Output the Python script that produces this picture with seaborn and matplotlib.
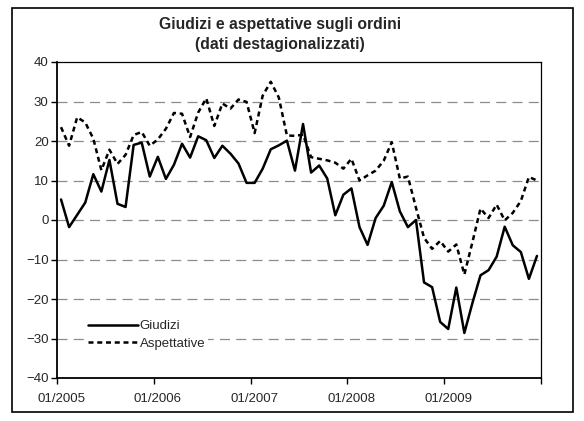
import numpy as np
import pandas as pd
import matplotlib
matplotlib.use("Agg")
import matplotlib.pyplot as plt
import seaborn as sns
from matplotlib.patches import Rectangle
from matplotlib.lines import Line2D

# ---- data (monthly, 01/2005 - 12/2009) ----
giudizi = [5.2, -1.8, 1.3, 4.4, 11.6, 7.2, 15.2, 4.1, 3.3, 19.0,
           19.6, 11.0, 16.0, 10.4, 14.0, 19.3, 15.8, 21.2, 20.2, 15.7,
           18.8, 16.8, 14.3, 9.4, 9.4, 13.0, 17.9, 18.9, 20.1, 12.5,
           24.3, 12.0, 13.8, 10.5, 1.2, 6.4, 8.0, -1.8, -6.3, 0.5,
           3.6, 9.6, 2.2, -1.8, 0.0, -15.8, -17.0, -25.8, -27.6, -17.1,
           -28.6, -21.0, -14.0, -12.7, -9.3, -1.7, -6.4, -8.1, -14.9, -9.1]
aspettative = [23.5, 18.8, 26.0, 24.7, 20.6, 12.6, 17.8, 14.2, 16.5, 21.5,
               22.3, 18.8, 20.4, 23.1, 27.1, 26.9, 21.0, 27.2, 30.8, 23.8,
               29.5, 28.2, 30.5, 29.9, 22.0, 31.5, 35.0, 31.0, 21.4, 21.3,
               21.6, 15.9, 15.5, 15.1, 14.5, 13.0, 15.5, 10.0, 11.3, 12.5,
               15.0, 19.7, 10.5, 11.0, 3.1, -4.5, -7.3, -5.3, -8.0, -6.2,
               -13.8, -5.6, 2.9, 0.5, 3.9, -0.1, 1.8, 4.8, 10.9, 10.0]
tick_labels = ["01/2005", "01/2006", "01/2007", "01/2008", "01/2009"]
series_names = ["Giudizi", "Aspettative"]
title_lines = ["Giudizi e aspettative sugli ordini", "(dati destagionalizzati)"]

n = len(giudizi)
df = pd.DataFrame({
    "mese": np.concatenate([np.arange(n), np.arange(n)]),
    "valore": giudizi + aspettative,
    "serie": [series_names[0]] * n + [series_names[1]] * n,
})

sns.set_style("white")
plt.rcParams["font.family"] = ["Liberation Sans", "DejaVu Sans"]

W, H = 584, 421
fig = plt.figure(figsize=(W / 100, H / 100), dpi=100)
ax = fig.add_axes([57 / W, 1 - 378 / H, (541 - 57) / W, (378 - 62) / H])

DASH = (2.0, 1.5)
sns.lineplot(data=df, x="mese", y="valore", hue="serie", style="serie",
             palette={series_names[0]: "black", series_names[1]: "black"},
             dashes={series_names[0]: "", series_names[1]: DASH},
             linewidth=1.8, ax=ax, legend=False)

ax.set_xlim(-0.5, n - 0.5)
ax.set_ylim(-40, 40)
ax.set_yticks(np.arange(-40, 41, 10))
ax.set_xticks(np.arange(-0.5, n, 12))
ax.set_xticklabels([])
ax.set_xticks(np.arange(0, n - 1, 12), minor=True)
ax.set_xticklabels(tick_labels, minor=True)
ax.tick_params(axis="x", which="major", direction="out", length=4, width=1, color="black", bottom=True)
ax.tick_params(axis="x", which="minor", length=0, pad=11, labelsize=9.5)
ax.tick_params(axis="y", which="major", direction="out", length=4, width=1, color="black",
               left=True, pad=2, labelsize=9.5)
ax.set_xlabel("")
ax.set_ylabel("")

for v in range(-30, 40, 10):
    ax.axhline(v, color="#8c8c8c", lw=0.9, ls=(0, (8, 5)), zorder=0)

for side in ["top", "right"]:
    ax.spines[side].set_color("black")
    ax.spines[side].set_linewidth(0.9)
for side in ["left", "bottom"]:
    ax.spines[side].set_color("black")
    ax.spines[side].set_linewidth(1.3)

handles = [Line2D([], [], color="black", lw=1.8),
           Line2D([], [], color="black", lw=1.8, dashes=DASH)]
leg = ax.legend(handles, series_names, loc="lower left", bbox_to_anchor=(0.045, 0.06),
                frameon=True, fontsize=9.5, handlelength=3.8, handletextpad=0.1,
                labelspacing=0.4, borderpad=0.2, fancybox=False)
leg.get_frame().set_edgecolor("none")
leg.get_frame().set_facecolor("white")
leg.get_frame().set_alpha(1)

fig.text(280 / W, 1 - 25 / H, title_lines[0], ha="center", va="center",
         fontsize=11.3, fontweight="bold")
fig.text(280 / W, 1 - 45 / H, title_lines[1], ha="center", va="center",
         fontsize=11.3, fontweight="bold")

fig.patches.append(Rectangle((12 / W, 1 - 412 / H), (573 - 12) / W, (412 - 8) / H,
                             transform=fig.transFigure, fill=False, edgecolor="black",
                             linewidth=1.2))

fig.savefig("out.png", dpi=100)
